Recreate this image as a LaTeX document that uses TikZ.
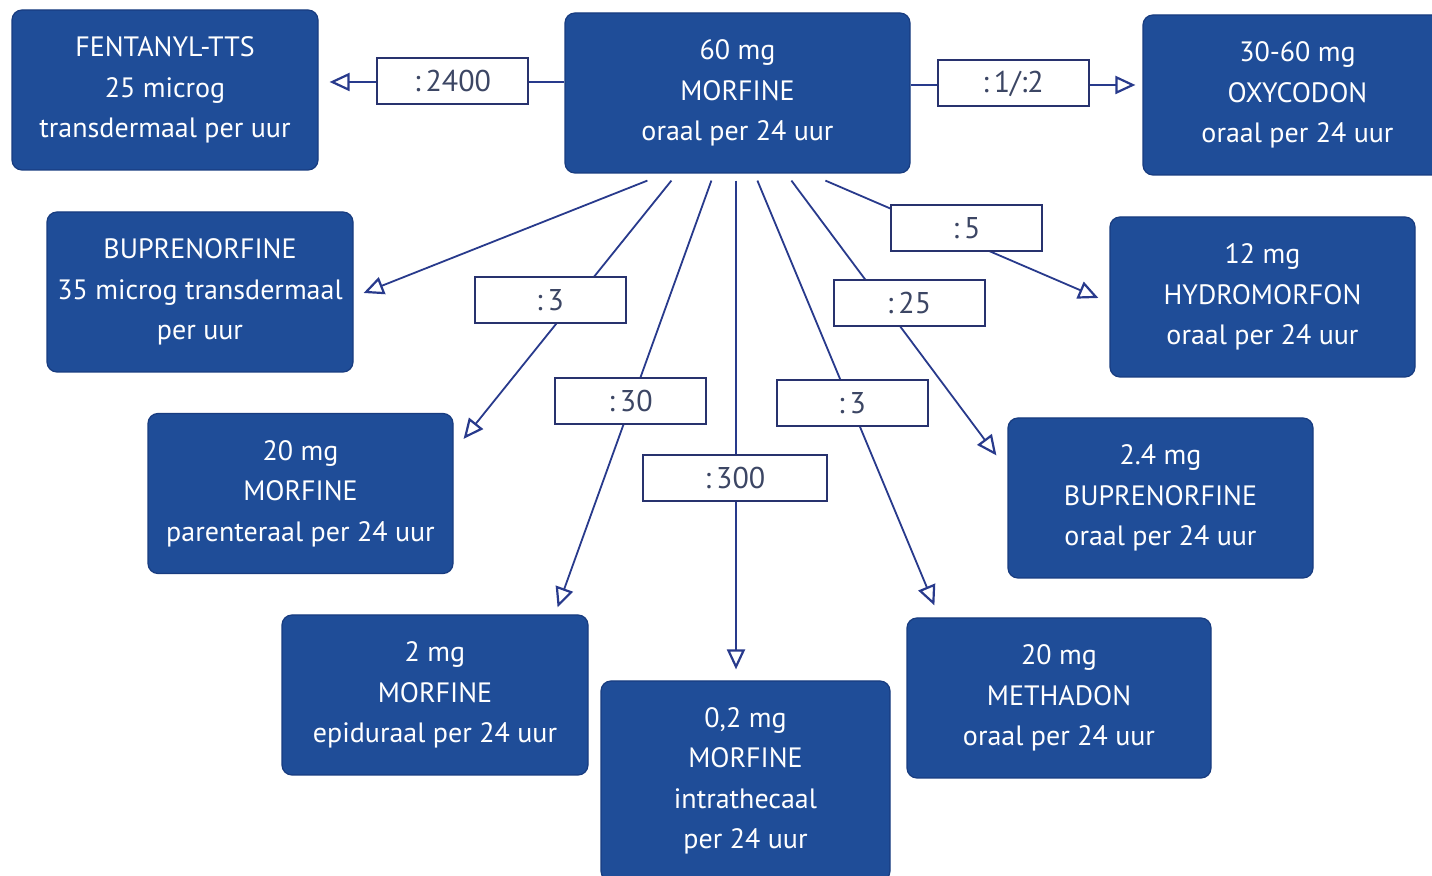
\documentclass[tikz,border=0pt]{standalone}
\usepackage{fontspec}
\setmainfont{PT Sans}
\usetikzlibrary{arrows.meta,backgrounds,calc}
\definecolor{boxblue}{RGB}{31,77,152}
\definecolor{boxedge}{RGB}{24,60,128}
\definecolor{lineblue}{RGB}{40,58,140}
\definecolor{lbledge}{RGB}{40,50,110}
\definecolor{lbltext}{RGB}{60,70,100}
\begin{document}
\begin{tikzpicture}[x=0.5pt,y=-0.5pt,
  drug/.style={draw=boxedge, fill=boxblue, rounded corners=5pt, text=white, align=center,
    font=\fontsize{14}{20.2}\selectfont, inner sep=0pt, line width=0.6pt, minimum height=80pt},
  ratio/.style={draw=lbledge, fill=white, line width=1pt, text=lbltext,
    font=\fontsize{15}{16}\selectfont, inner sep=0pt, minimum width=75.5pt, minimum height=23pt},
  conn/.style={draw=lineblue, line width=0.9pt},
  arr/.style={conn, -{Triangle[open,length=10pt,width=9pt,line width=1.1pt]}}]
\useasboundingbox (0,0) rectangle (1432,876);
\begin{pgfonlayer}{background}
\fill[white] (0,0) rectangle (1432,876);
\end{pgfonlayer}

% drug boxes
\node[drug, minimum width=172.5pt] (mor) at (737.5,93) {60 mg\\MORFINE\\oraal per 24 uur};
\node[drug, minimum width=153pt] (fen) at (165,90) {FENTANYL-TTS\\25 microg\\transdermaal per uur};
\node[drug, minimum width=154.5pt] (oxy) at (1297.5,95) {30-60 mg\\OXYCODON\\oraal per 24 uur};
\node[drug, minimum width=153pt] (bupT) at (200,292) {BUPRENORFINE\\35 microg transdermaal\\per uur};
\node[drug, minimum width=152.5pt] (hyd) at (1262.5,297) {12 mg\\HYDROMORFON\\oraal per 24 uur};
\node[drug, minimum width=152.5pt] (morP) at (300.5,493.5) {20 mg\\MORFINE\\parenteraal per 24 uur};
\node[drug, minimum width=152.5pt] (bupO) at (1160.5,498) {2.4 mg\\BUPRENORFINE\\oraal per 24 uur};
\node[drug, minimum width=153pt] (morE) at (435,695) {2 mg\\MORFINE\\epiduraal per 24 uur};
\node[drug, minimum width=144.5pt, minimum height=100pt] (morI) at (745.5,781) {0,2 mg\\MORFINE\\intrathecaal\\per 24 uur};
\node[drug, minimum width=152pt] (meth) at (1059,698) {20 mg\\METHADON\\oraal per 24 uur};

% ratio labels
\node[ratio] (l2400) at (452.5,81) {:\,2400};
\node[ratio] (l12) at (1013,83.5) {:\,1/:2};
\node[ratio] (l5) at (966.5,228) {:\,5};
\node[ratio] (l3a) at (550,300.5) {:\,3};
\node[ratio] (l25) at (909,303) {:\,25};
\node[ratio] (l30) at (630.5,401) {:\,30};
\node[ratio] (l3b) at (852,403) {:\,3};
\node[ratio, minimum width=92pt] (l300) at (735,478.5) {:\,300};

% connectors
\begin{pgfonlayer}{background}
\draw[arr] ($(mor.west)+(0,-11)$) -- ($(fen.east)+(11,-8)$);
\draw[arr] ($(mor.east)+(0,-8)$) -- ($(oxy.west)+(-7,-10)$);
\draw[arr] ($(mor.south west)+(83,7)$) -- ($(bupT.east)+(10,1)$);
\draw[arr] ($(mor.south west)+(107,7)$) -- ($(morP.north east)+(10,26)$);
\draw[arr] ($(mor.south west)+(147,7)$) -- ($(morE.north east)+(-31,-7)$);
\draw[arr] ($(mor.south)+(-1.5,7)$) -- ($(morI.north)+(-9.5,-11)$);
\draw[arr] ($(mor.south west)+(193,7)$) -- ($(meth.north west)+(28,-12)$);
\draw[arr] ($(mor.south west)+(227,7)$) -- ($(bupO.north west)+(-11,38)$);
\draw[arr] ($(mor.south west)+(261,7)$) -- ($(hyd.west)+(-11,1)$);
\end{pgfonlayer}
\end{tikzpicture}
\end{document}
